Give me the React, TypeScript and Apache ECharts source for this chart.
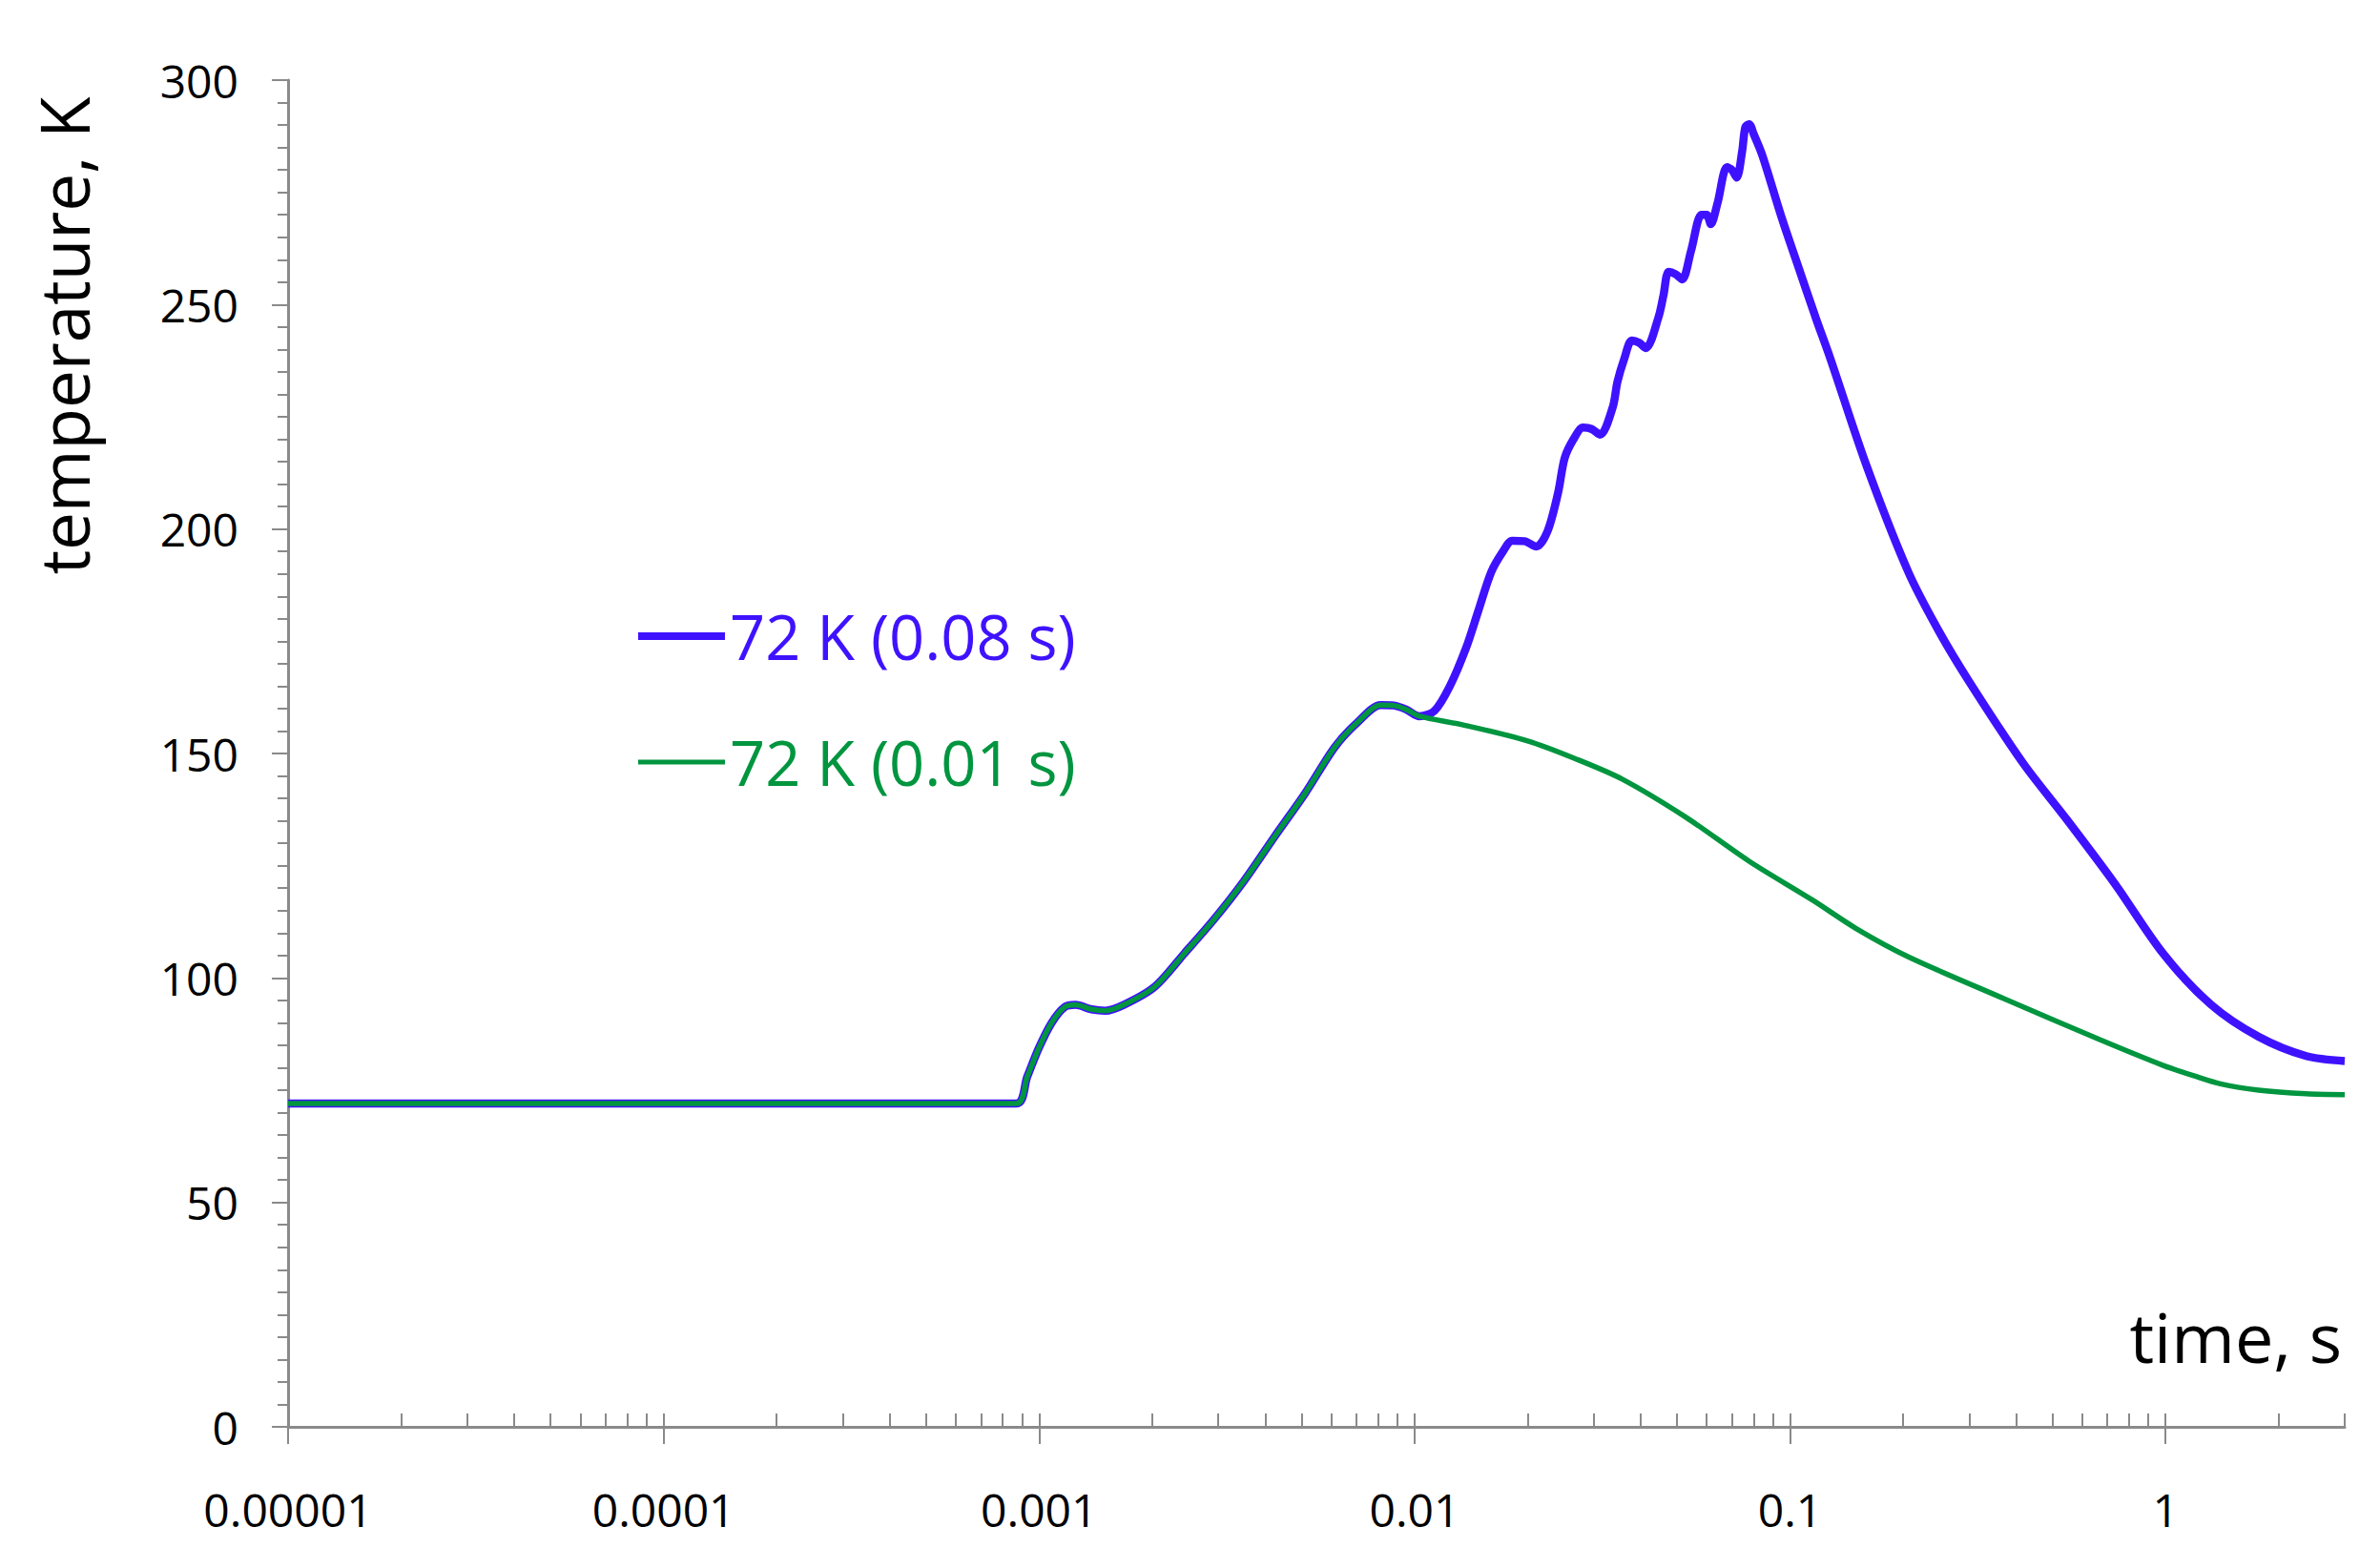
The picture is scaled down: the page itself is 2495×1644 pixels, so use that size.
import React, { useEffect, useRef } from "react";
import * as echarts from "echarts";

// ---------- data ----------
const blueName = "72 K (0.08 s)";
const greenName = "72 K (0.01 s)";

const blueTime = [
  0.00001, 0.00087, 0.00093, 0.001, 0.00108, 0.00117, 0.00125, 0.00138, 0.0015, 0.00168,
  0.00203, 0.00244, 0.00292, 0.00352, 0.00424, 0.0051, 0.00614, 0.00706, 0.00812, 0.0088,
  0.0095, 0.0103, 0.0113, 0.0124, 0.0137, 0.0148, 0.016, 0.0172,
  0.0182, 0.0196, 0.0211, 0.0226, 0.0241, 0.0251, 0.0265, 0.0281, 0.0296, 0.0312,
  0.0337, 0.0347, 0.0362, 0.0379, 0.0396, 0.0413, 0.0446, 0.046, 0.0475, 0.0495,
  0.0516, 0.0545, 0.0581, 0.06, 0.0615, 0.0641, 0.0679, 0.07, 0.0721, 0.0745,
  0.076, 0.0778, 0.08, 0.0844, 0.0948, 0.1067, 0.117, 0.128, 0.16, 0.2066,
  0.25, 0.3, 0.417, 0.548, 0.734, 0.986, 1.32, 1.77, 2.37, 3,
];
const blueTemp = [
  72, 72, 78, 84.5, 90, 93.5, 94, 93, 92.7, 94,
  98, 105.5, 113, 121.7, 131.5, 141, 151.5, 157, 160.8, 160.7,
  159.8, 158.3, 159.5, 164.9, 173.4, 181.9, 190.4, 195,
  197.4, 197.3, 196.1, 199.5, 208, 215.8, 220, 222.6, 222.3, 221,
  227.1, 232.8, 238, 242, 241.5, 240.3, 247.1, 252, 257.3, 256.8,
  255.6, 262, 270, 270, 267.9, 272.6, 280.6, 280, 278.3, 284,
  289.5, 290.2, 288, 283.2, 269.6, 256.9, 247.1, 238, 214, 190.4,
  177, 166, 147.9, 135.1, 120.9, 105.4, 94.1, 86.9, 82.6, 81.5,
];

const greenTime = [
  0.00001, 0.00087, 0.00093, 0.001, 0.00108, 0.00117, 0.00125, 0.00138, 0.0015, 0.00168,
  0.00203, 0.00244, 0.00292, 0.00352, 0.00424, 0.0051, 0.00614, 0.00706, 0.00812, 0.0088,
  0.0095, 0.0103, 0.0134, 0.02, 0.0267, 0.0357, 0.0528, 0.0778,
  0.115, 0.15, 0.2066, 0.371, 0.666, 0.986, 1.19, 1.4, 1.77, 2.37, 3,
];
const greenTemp = [
  72, 72, 78, 84.5, 90, 93.5, 94, 93, 92.7, 94,
  98, 105.5, 113, 121.7, 131.5, 141, 151.5, 157, 160.8, 160.7,
  159.8, 158.3, 156.4, 152.8, 148.9, 144.3, 135.8, 126,
  117.3, 111, 104.7, 95.4, 86.3, 80.5, 78.2, 76.4, 75, 74.2, 74,
];

const xMajorTicks = [0.00001, 0.0001, 0.001, 0.01, 0.1, 1];
const xTickLabels = ["0.00001", "0.0001", "0.001", "0.01", "0.1", "1"];
const xMinorMultipliers = [1, 2, 3, 4, 5, 6, 7, 8, 9];
const xMax = 3;

const yTitle = "temperature, K";
const xTitle = "time, s";

const BLUE = "#3F12FF";
const GREEN = "#00953F";
const AXIS = "#8A8A8A";
const FONT = "'Open Sans', 'Noto Sans', sans-serif";

export default function App() {
  const ref = useRef<HTMLDivElement>(null);

  useEffect(() => {
    if (!ref.current) return;
    const chart = echarts.init(ref.current, undefined, { renderer: "svg" });

    const minorVals: number[] = [];
    xMajorTicks.forEach((d) => {
      xMinorMultipliers.forEach((m) => {
        const v = d * m;
        if (v > 0.00001 * 1.0001 && v <= xMax * 1.0001) minorVals.push(v);
      });
    });
    minorVals.push(2, 3);

    const labelFor = (v: number) => {
      const i = xMajorTicks.findIndex((m) => Math.abs(Math.log10(m) - Math.log10(v)) < 1e-6);
      return i >= 0 ? xTickLabels[i] : "";
    };

    chart.setOption({
      animation: false,
      backgroundColor: "#ffffff",
      grid: { left: 302, right: 37, top: 84, bottom: 148, containLabel: false },
      xAxis: [
        {
          type: "log",
          logBase: 10,
          min: 0.00001,
          max: xMax,
          position: "bottom",
          axisLine: { show: true, onZero: false, lineStyle: { color: AXIS, width: 3 } },
          axisTick: {
            show: true,
            inside: false,
            length: 18,
            customValues: xMajorTicks,
            lineStyle: { color: AXIS, width: 2 },
          },
          axisLabel: {
            show: true,
            customValues: xMajorTicks,
            formatter: labelFor,
            margin: 62,
            color: "#000",
            fontFamily: FONT,
            fontSize: 48,
          },
          splitLine: { show: false },
          minorTick: { show: false },
        },
        {
          type: "log",
          logBase: 10,
          min: 0.00001,
          max: xMax,
          position: "bottom",
          axisLine: { show: false, onZero: false },
          axisTick: {
            show: true,
            inside: true,
            length: 14,
            customValues: minorVals,
            lineStyle: { color: AXIS, width: 2 },
          },
          axisLabel: { show: false },
          splitLine: { show: false },
        },
      ],
      yAxis: {
        type: "value",
        min: 0,
        max: 300,
        interval: 50,
        axisLine: { show: true, lineStyle: { color: AXIS, width: 3 } },
        axisTick: { show: true, inside: false, length: 17, lineStyle: { color: AXIS, width: 2 } },
        minorTick: { show: true, splitNumber: 10, length: 11, lineStyle: { color: AXIS, width: 2 } },
        axisLabel: { margin: 52, color: "#000", fontFamily: FONT, fontSize: 48 },
        splitLine: { show: false },
      },
      legend: {
        orient: "vertical",
        left: 665,
        top: 632,
        padding: 0,
        itemGap: 62,
        itemWidth: 91,
        itemHeight: 14,
        selectedMode: false,
        itemStyle: { color: "transparent", borderColor: "transparent", borderWidth: 0 },
        textStyle: { fontFamily: FONT, fontSize: 65, lineHeight: 70 },
        data: [
          { name: blueName, lineStyle: { width: 8, color: BLUE }, textStyle: { color: BLUE } },
          { name: greenName, lineStyle: { width: 5, color: GREEN }, textStyle: { color: GREEN } },
        ],
      },
      series: [
        {
          name: blueName,
          type: "line",
          xAxisIndex: 0,
          data: blueTime.map((t, i) => [t, blueTemp[i]]),
          showSymbol: false,
          symbol: "none",
          smooth: 0.3,
          lineStyle: { color: BLUE, width: 8.5 },
          itemStyle: { color: BLUE },
          z: 2,
        },
        {
          name: greenName,
          type: "line",
          xAxisIndex: 0,
          data: greenTime.map((t, i) => [t, greenTemp[i]]),
          showSymbol: false,
          symbol: "none",
          smooth: 0.3,
          lineStyle: { color: GREEN, width: 5.5 },
          itemStyle: { color: GREEN },
          z: 3,
        },
      ],
      graphic: [
        {
          type: "text",
          x: 66,
          y: 352,
          rotation: Math.PI / 2,
          style: {
            text: yTitle,
            fill: "#000",
            font: `71px ${FONT}`,
            textAlign: "center",
            textVerticalAlign: "middle",
          },
        },
        {
          type: "text",
          x: 2455,
          y: 1401,
          style: {
            text: xTitle,
            fill: "#000",
            font: `72px ${FONT}`,
            textAlign: "right",
            textVerticalAlign: "middle",
          },
        },
      ],
    });

    return () => chart.dispose();
  }, []);

  return (
    <div
      ref={ref}
      style={{ position: "absolute", left: 0, top: 0, width: 2495, height: 1644 }}
    />
  );
}
